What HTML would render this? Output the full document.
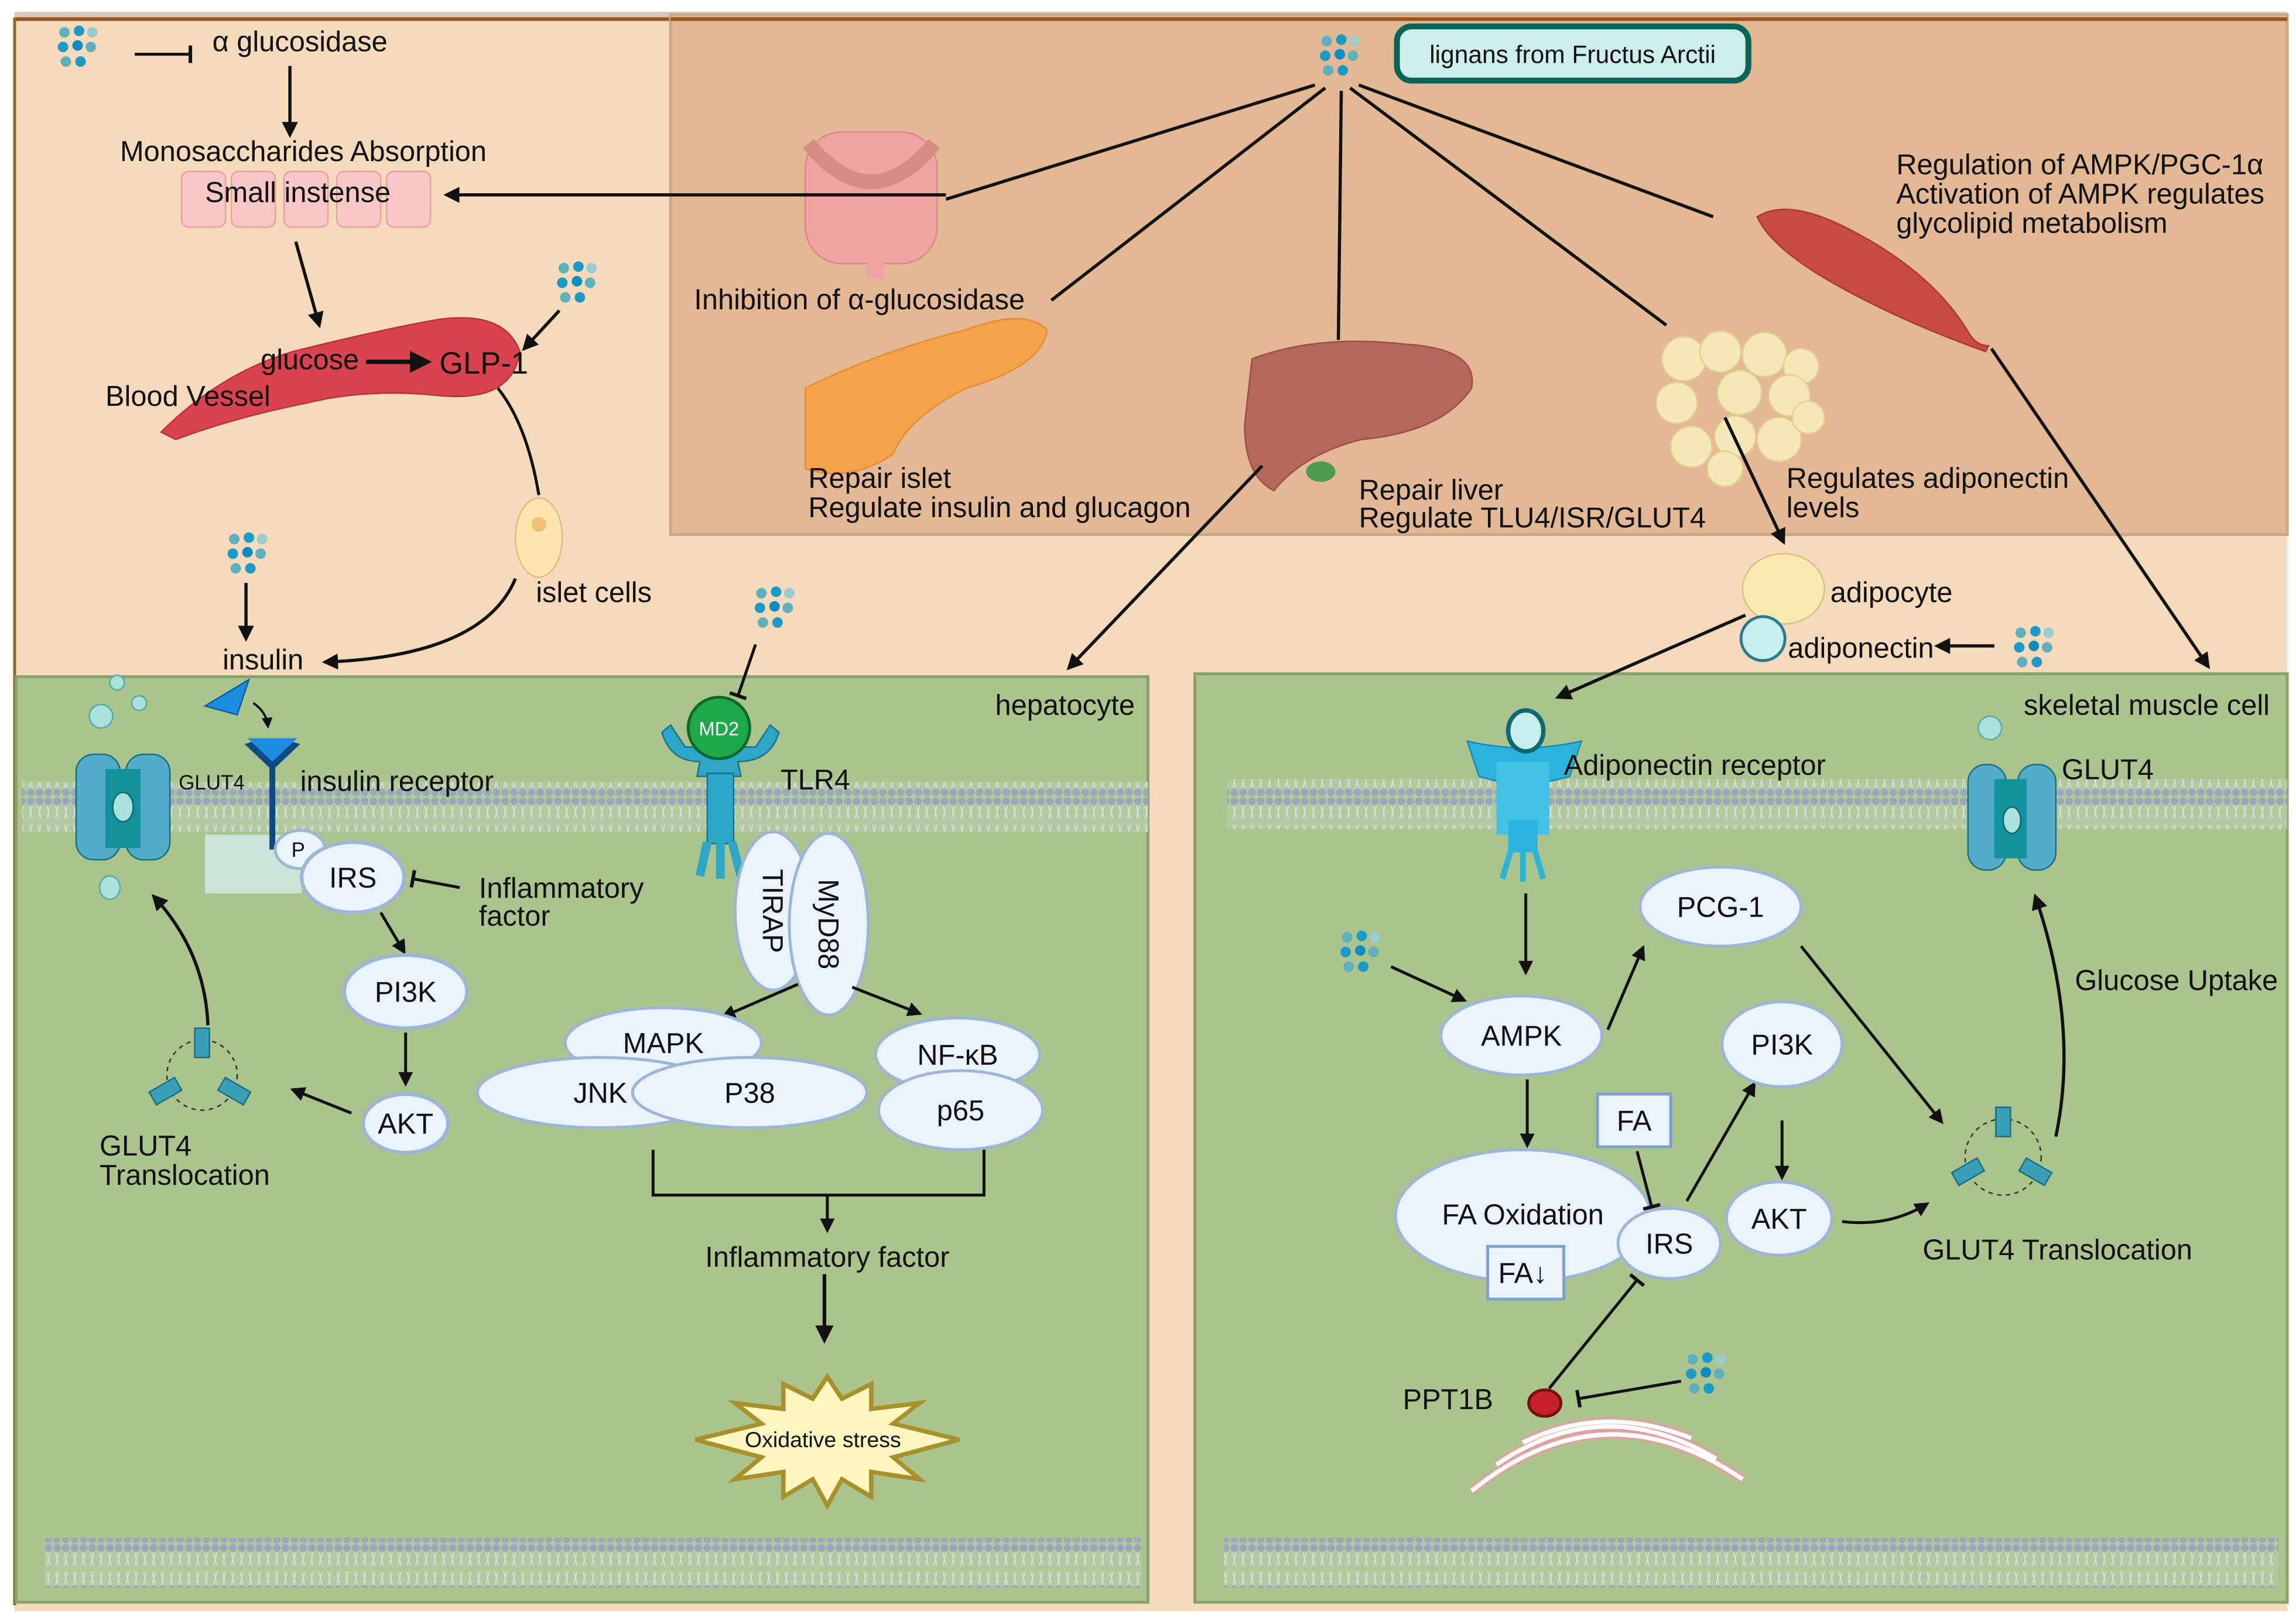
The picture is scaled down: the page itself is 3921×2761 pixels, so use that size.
<!DOCTYPE html>
<html><head><meta charset="utf-8"><style>
html,body{margin:0;padding:0;background:#fff}
svg{display:block}
text{font-family:"Liberation Sans",Arial,sans-serif;fill:#111}
</style></head><body>
<svg width="3921" height="2761" viewBox="0 0 1568 1104" xmlns="http://www.w3.org/2000/svg">
<defs>
<pattern id="mem" width="6" height="34" patternUnits="userSpaceOnUse">
<rect width="6" height="34" fill="#b4c89d"/>
<circle cx="3" cy="3" r="2.6" fill="#9aa8bc"/>
<circle cx="3" cy="31" r="2.6" fill="#9aa8bc"/>
<line x1="2" y1="6" x2="4" y2="15" stroke="#d9e2ea" stroke-width="0.6"/>
<line x1="4" y1="6" x2="2" y2="15" stroke="#d9e2ea" stroke-width="0.6"/>
<line x1="2" y1="19" x2="4" y2="28" stroke="#d9e2ea" stroke-width="0.6"/>
<line x1="4" y1="19" x2="2" y2="28" stroke="#d9e2ea" stroke-width="0.6"/>
</pattern>
<marker id="ah" viewBox="0 0 10 10" refX="8" refY="5" markerWidth="5" markerHeight="5" orient="auto-start-reverse"><path d="M0,0 L10,5 L0,10 z" fill="#111"/></marker>
<marker id="tb" viewBox="0 0 10 10" refX="5" refY="5" markerWidth="6" markerHeight="6" orient="auto"><path d="M5,0 L5,10" stroke="#111" stroke-width="2"/></marker>
<g id="dots">
<circle cx="0" cy="0" r="3.6" fill="#5fb0bd"/><circle cx="10" cy="-1" r="3.6" fill="#1b9ac8"/><circle cx="19" cy="0" r="3.6" fill="#9cc"/>
<circle cx="-1" cy="10" r="3.6" fill="#1b9ac8"/><circle cx="9" cy="9" r="3.6" fill="#0d8cc0"/><circle cx="18" cy="10" r="3.6" fill="#5fb0bd"/>
<circle cx="1" cy="20" r="3.6" fill="#5fb0bd"/><circle cx="11" cy="20" r="3.6" fill="#1b9ac8"/>
</g>
</defs>
<rect width="1568" height="1104" fill="#fff"/>
<rect x="10" y="12" width="1552" height="1088" fill="#f5dbbb"/>
<rect x="10" y="8" width="1552" height="4" fill="#d8c8bc"/>
<line x1="10" y1="13" x2="1562" y2="13" stroke="#9a5520" stroke-width="2.5"/>
<line x1="10" y1="12" x2="10" y2="1096" stroke="#8a6a20" stroke-width="2"/>
<rect x="458" y="10" width="1104" height="355" fill="#e2b994" stroke="#c9a98a" stroke-width="2"/>
<line x1="458" y1="13" x2="1562" y2="13" stroke="#9a5520" stroke-width="2.5"/>
<rect x="11" y="462" width="773" height="632" fill="#abc48e" stroke="#8aa070" stroke-width="2"/>
<rect x="816" y="460" width="746" height="634" fill="#abc48e" stroke="#8aa070" stroke-width="2"/>
<rect x="15" y="534" width="769" height="34" fill="url(#mem)"/>
<rect x="838" y="532" width="724" height="34" fill="url(#mem)"/>
<rect x="30" y="1050" width="750" height="34" fill="url(#mem)"/>
<rect x="836" y="1050" width="720" height="34" fill="url(#mem)"/>

<g font-size="19.5">
<rect x="954" y="18" width="240" height="37" rx="10" fill="#cdeeea" stroke="#0a6458" stroke-width="4"/>
<text x="1074" y="43" font-size="17" text-anchor="middle">lignans from Fructus Arctii</text>
<use href="#dots" x="906" y="28"/>
<g stroke="#111" stroke-width="2.2" fill="none">
<line x1="898" y1="58" x2="646" y2="136"/>
<line x1="905" y1="60" x2="718" y2="205"/>
<line x1="916" y1="62" x2="914" y2="232"/>
<line x1="922" y1="60" x2="1138" y2="222"/>
<line x1="928" y1="58" x2="1170" y2="148"/>
</g>
<g>
<rect x="550" y="90" width="90" height="90" rx="25" fill="#eea4a0" stroke="#d88a86"/>
<path d="M552,98 Q595,150 638,98" fill="none" stroke="#d88a86" stroke-width="10"/>
<rect x="592" y="170" width="12" height="20" fill="#eea4a0"/>
</g>
<line x1="646" y1="133" x2="305" y2="133" stroke="#111" stroke-width="2.2" marker-end="url(#ah)"/>
<text x="474" y="211">Inhibition of α-glucosidase</text>
<path d="M550,265 Q600,240 660,225 Q700,210 715,225 Q712,250 660,265 Q620,285 610,310 Q580,330 550,320 Z" fill="#f5a24c" stroke="#e58c30"/>
<text x="552" y="333">Repair islet</text>
<text x="552" y="353">Regulate insulin and glucagon</text>
<path d="M855,245 Q900,228 960,235 Q1010,238 1005,265 Q985,295 930,300 Q890,310 870,335 Q850,325 850,290 Z" fill="#b5675a" stroke="#9a5046"/>
<ellipse cx="902" cy="322" rx="10" ry="7" fill="#4e9a52"/>
<text x="928" y="341">Repair liver</text>
<text x="928" y="360">Regulate TLU4/ISR/GLUT4</text>
<g fill="#f4e7b8" stroke="#e3cf8f">
<circle cx="1150" cy="245" r="15"/><circle cx="1175" cy="240" r="14"/><circle cx="1205" cy="242" r="15"/><circle cx="1230" cy="250" r="12"/>
<circle cx="1145" cy="275" r="14"/><circle cx="1188" cy="268" r="15"/><circle cx="1222" cy="270" r="14"/>
<circle cx="1155" cy="305" r="14"/><circle cx="1185" cy="298" r="14"/><circle cx="1215" cy="300" r="15"/><circle cx="1235" cy="285" r="11"/><circle cx="1178" cy="320" r="12"/>
</g>
<text x="1220" y="333">Regulates adiponectin</text>
<text x="1220" y="353">levels</text>
<path d="M1200,148 Q1220,135 1260,155 Q1320,185 1345,228 Q1350,236 1358,236 L1356,240 Q1300,220 1255,195 Q1210,170 1200,148 Z" fill="#c84a44" stroke="#a83a36"/>
<text x="1295" y="119">Regulation of AMPK/PGC-1α</text>
<text x="1295" y="139">Activation of AMPK regulates</text>
<text x="1295" y="159">glycolipid metabolism</text>

<use href="#dots" x="44" y="22"/>
<line x1="92" y1="37" x2="130" y2="37" stroke="#111" stroke-width="2" marker-end="url(#tb)"/>
<text x="145" y="35">α glucosidase</text>
<line x1="198" y1="45" x2="198" y2="92" stroke="#111" stroke-width="2.2" marker-end="url(#ah)"/>
<text x="82" y="110">Monosaccharides Absorption</text>
<g fill="#f8c8c8" stroke="#e8a0a0"><rect x="124" y="117" width="30" height="38" rx="5"/><rect x="158" y="117" width="30" height="38" rx="5"/><rect x="194" y="117" width="30" height="38" rx="5"/><rect x="230" y="117" width="30" height="38" rx="5"/><rect x="264" y="117" width="30" height="38" rx="5"/></g>
<text x="140" y="138">Small instense</text>
<line x1="202" y1="165" x2="218" y2="222" stroke="#111" stroke-width="2.2" marker-end="url(#ah)"/>
<path d="M110,295 Q150,255 200,240 Q260,225 300,218 Q345,212 355,240 Q350,275 300,270 Q250,265 210,275 Q160,285 120,300 Z" fill="#d9434f" stroke="#b83040"/>
<text x="178" y="252">glucose</text>
<line x1="250" y1="247" x2="292" y2="247" stroke="#111" stroke-width="3" marker-end="url(#ah)"/>
<text x="300" y="255" font-size="21">GLP-1</text>
<text x="72" y="277">Blood Vessel</text>
<use href="#dots" x="385" y="183"/>
<line x1="382" y1="212" x2="358" y2="238" stroke="#111" stroke-width="2.2" marker-end="url(#ah)"/>
<path d="M340,265 Q360,290 368,338" fill="none" stroke="#111" stroke-width="2"/>
<ellipse cx="368" cy="367" rx="16" ry="27" fill="#fbe6b0" stroke="#d8c080"/>
<circle cx="368" cy="358" r="5" fill="#f2c070"/>
<text x="366" y="411">islet cells</text>
<path d="M352,395 Q330,448 222,452" fill="none" stroke="#111" stroke-width="2.2" marker-end="url(#ah)"/>
<use href="#dots" x="160" y="368"/>
<line x1="168" y1="398" x2="168" y2="436" stroke="#111" stroke-width="2.2" marker-end="url(#ah)"/>
<text x="152" y="457">insulin</text>

<circle cx="80" cy="466" r="5" fill="#a9e2dd" stroke="#5aa"/>
<circle cx="69" cy="489" r="8" fill="#a9e2dd" stroke="#5aa"/>
<circle cx="95" cy="480" r="5" fill="#a9e2dd" stroke="#5aa"/>
<path d="M140,482 L170,464 L162,488 Z" fill="#1c8ce0" stroke="#0d5ea0"/>
<path d="M173,480 Q182,486 183,496" fill="none" stroke="#111" stroke-width="1.5" marker-end="url(#ah)"/>
<rect x="140" y="570" width="66" height="40" fill="#d4eeee" opacity="0.8"/>
<rect x="52" y="515" width="30" height="72" rx="12" fill="#53adc9" stroke="#1a6f7e"/>
<rect x="86" y="515" width="30" height="72" rx="12" fill="#53adc9" stroke="#1a6f7e"/>
<rect x="72" y="525" width="24" height="54" fill="#12909c"/>
<ellipse cx="84" cy="551" rx="7" ry="10" fill="#a9e2dd" stroke="#0d6a70"/>
<ellipse cx="75" cy="606" rx="7" ry="8" fill="#a9e2dd" stroke="#5aa"/>
<text x="122" y="539" font-size="14">GLUT4</text>
<path d="M167,508 L186,526 L205,508 L198,506 L186,518 L174,506 Z" fill="#0d4a80"/>
<path d="M169,504 L186,520 L203,504 Z" fill="#1c8ce0"/>
<rect x="184" y="524" width="4" height="56" fill="#0d4a80"/>
<text x="205" y="540">insulin receptor</text>
<ellipse cx="205" cy="580" rx="17" ry="13" fill="#eaf2fc" stroke="#9db5d6" stroke-width="2"/>
<text x="199" y="585" font-size="14">P</text>
<ellipse cx="241" cy="599" rx="35" ry="24" fill="#eaf2fc" stroke="#9db5d6" stroke-width="2.5"/>
<text x="241" y="606" text-anchor="middle">IRS</text>
<line x1="314" y1="606" x2="282" y2="600" stroke="#111" stroke-width="2" marker-end="url(#tb)"/>
<text x="327" y="613">Inflammatory</text>
<text x="327" y="632">factor</text>
<line x1="260" y1="623" x2="276" y2="650" stroke="#111" stroke-width="2" marker-end="url(#ah)"/>
<ellipse cx="277" cy="677" rx="42" ry="25" fill="#eaf2fc" stroke="#9db5d6" stroke-width="2.5"/>
<text x="277" y="684" text-anchor="middle">PI3K</text>
<line x1="277" y1="705" x2="277" y2="740" stroke="#111" stroke-width="2" marker-end="url(#ah)"/>
<ellipse cx="277" cy="767" rx="29" ry="20" fill="#eaf2fc" stroke="#9db5d6" stroke-width="2.5"/>
<text x="277" y="774" text-anchor="middle">AKT</text>
<line x1="240" y1="760" x2="200" y2="744" stroke="#111" stroke-width="2" marker-end="url(#ah)"/>
<circle cx="138" cy="734" r="24" fill="none" stroke="#333" stroke-dasharray="3,3"/>
<rect x="133" y="702" width="10" height="20" fill="#3aa0b8" stroke="#1a6f7e"/>
<rect x="103" y="740" width="20" height="10" fill="#3aa0b8" stroke="#1a6f7e" transform="rotate(-30 113 745)"/>
<rect x="150" y="740" width="20" height="10" fill="#3aa0b8" stroke="#1a6f7e" transform="rotate(30 160 745)"/>
<path d="M142,700 Q140,650 105,612" fill="none" stroke="#111" stroke-width="2.2" marker-end="url(#ah)"/>
<text x="68" y="789">GLUT4</text>
<text x="68" y="809">Translocation</text>

<text x="775" y="488" text-anchor="end">hepatocyte</text>
<line x1="862" y1="318" x2="730" y2="456" stroke="#111" stroke-width="2.2" marker-end="url(#ah)"/>
<use href="#dots" x="520" y="405"/>
<line x1="516" y1="440" x2="504" y2="475" stroke="#111" stroke-width="2" marker-end="url(#tb)"/>
<path d="M452,500 Q458,520 478,520 L476,530 L506,530 L504,520 Q526,520 532,500 L526,495 L516,510 L468,510 L458,495 Z" fill="#2ea7c7" stroke="#1a7090"/>
<rect x="483" y="528" width="18" height="48" fill="#2ea7c7" stroke="#1a7090"/>
<path d="M483,575 L478,598 M492,575 L492,600 M500,575 L506,598" stroke="#2ea7c7" stroke-width="6"/>
<circle cx="491" cy="497" r="21" fill="#1ea84a" stroke="#0c6a28" stroke-width="2"/>
<text x="491" y="502" font-size="13" text-anchor="middle" style="fill:#fff">MD2</text>
<text x="533" y="539">TLR4</text>
<ellipse cx="528" cy="622" rx="26" ry="54" fill="#eaf2fc" stroke="#9db5d6" stroke-width="2"/>
<text transform="translate(521,622) rotate(90)" text-anchor="middle">TIRAP</text>
<ellipse cx="566" cy="631" rx="27" ry="62" fill="#eaf2fc" stroke="#9db5d6" stroke-width="2"/>
<text transform="translate(559,631) rotate(90)" text-anchor="middle">MyD88</text>
<line x1="545" y1="672" x2="494" y2="694" stroke="#111" stroke-width="2" marker-end="url(#ah)"/>
<line x1="582" y1="674" x2="628" y2="692" stroke="#111" stroke-width="2" marker-end="url(#ah)"/>
<ellipse cx="453" cy="712" rx="67" ry="24" fill="#eaf2fc" stroke="#9db5d6" stroke-width="2"/>
<text x="453" y="719" text-anchor="middle">MAPK</text>
<ellipse cx="410" cy="746" rx="84" ry="24" fill="#eaf2fc" stroke="#9db5d6" stroke-width="2"/>
<text x="410" y="753" text-anchor="middle">JNK</text>
<ellipse cx="512" cy="746" rx="80" ry="24" fill="#eaf2fc" stroke="#9db5d6" stroke-width="2"/>
<text x="512" y="753" text-anchor="middle">P38</text>
<ellipse cx="654" cy="720" rx="56" ry="25" fill="#eaf2fc" stroke="#9db5d6" stroke-width="2"/>
<text x="654" y="727" text-anchor="middle">NF-κB</text>
<ellipse cx="656" cy="758" rx="56" ry="27" fill="#eaf2fc" stroke="#9db5d6" stroke-width="2"/>
<text x="656" y="765" text-anchor="middle">p65</text>
<path d="M446,785 L446,816 L672,816 L672,785" fill="none" stroke="#111" stroke-width="2"/>
<line x1="565" y1="816" x2="565" y2="840" stroke="#111" stroke-width="2" marker-end="url(#ah)"/>
<text x="565" y="865" text-anchor="middle">Inflammatory factor</text>
<line x1="563" y1="870" x2="563" y2="915" stroke="#111" stroke-width="2.5" marker-end="url(#ah)"/>
<polygon points="565,940 575,955 595,945 595,962 628,958 610,972 655,983 610,995 628,1010 595,1005 595,1022 575,1010 565,1028 555,1010 535,1022 535,1005 502,1010 520,995 475,983 520,972 502,958 535,962 535,945 555,955" fill="#fdf6c0" stroke="#a8902a" stroke-width="3"/>
<text x="562" y="988" font-size="15" text-anchor="middle">Oxidative stress</text>

<line x1="1178" y1="285" x2="1218" y2="370" stroke="#111" stroke-width="2.2" marker-end="url(#ah)"/>
<ellipse cx="1218" cy="402" rx="28" ry="24" fill="#f8eab0" stroke="#d8c080"/>
<text x="1250" y="411">adipocyte</text>
<ellipse cx="1204" cy="436" rx="15" ry="15" fill="#c8eef0" stroke="#2a7a90" stroke-width="2"/>
<text x="1221" y="449">adiponectin</text>
<use href="#dots" x="1380" y="432"/>
<line x1="1362" y1="441" x2="1323" y2="441" stroke="#111" stroke-width="2.2" marker-end="url(#ah)"/>
<line x1="1192" y1="420" x2="1064" y2="476" stroke="#111" stroke-width="2.2" marker-end="url(#ah)"/>
<line x1="1360" y1="238" x2="1508" y2="455" stroke="#111" stroke-width="2.2" marker-end="url(#ah)"/>
<text x="1550" y="488" text-anchor="end">skeletal muscle cell</text>
<path d="M1002,506 Q1040,515 1080,506 L1072,530 Q1040,540 1010,530 Z" fill="#2ab3dc" stroke="#1a8ab0"/>
<rect x="1022" y="520" width="36" height="50" fill="#42c0e6"/>
<rect x="1030" y="560" width="20" height="22" fill="#2ab3dc"/>
<path d="M1032,580 L1026,600 M1040,580 L1040,602 M1048,580 L1054,600" stroke="#2ab3dc" stroke-width="4"/>
<ellipse cx="1042" cy="499" rx="12" ry="14" fill="#c8eef0" stroke="#0a6a70" stroke-width="3"/>
<text x="1068" y="529">Adiponectin receptor</text>
<line x1="1042" y1="610" x2="1042" y2="664" stroke="#111" stroke-width="2" marker-end="url(#ah)"/>
<use href="#dots" x="920" y="640"/>
<line x1="950" y1="660" x2="1000" y2="683" stroke="#111" stroke-width="2" marker-end="url(#ah)"/>
<ellipse cx="1039" cy="707" rx="55" ry="27" fill="#eaf2fc" stroke="#9db5d6" stroke-width="2"/>
<text x="1039" y="714" text-anchor="middle">AMPK</text>
<line x1="1098" y1="703" x2="1122" y2="647" stroke="#111" stroke-width="2" marker-end="url(#ah)"/>
<ellipse cx="1175" cy="619" rx="55" ry="27" fill="#eaf2fc" stroke="#9db5d6" stroke-width="2"/>
<text x="1175" y="626" text-anchor="middle">PCG-1</text>
<line x1="1230" y1="646" x2="1326" y2="766" stroke="#111" stroke-width="2" marker-end="url(#ah)"/>
<line x1="1043" y1="737" x2="1043" y2="782" stroke="#111" stroke-width="2" marker-end="url(#ah)"/>
<ellipse cx="1040" cy="830" rx="87" ry="45" fill="#eaf2fc" stroke="#9db5d6" stroke-width="2"/>
<text x="1040" y="836" text-anchor="middle">FA Oxidation</text>
<rect x="1091" y="747" width="50" height="36" fill="#eaf2fc" stroke="#7ea0cc" stroke-width="2"/>
<text x="1116" y="772" text-anchor="middle">FA</text>
<rect x="1016" y="851" width="52" height="36" fill="#eaf2fc" stroke="#7ea0cc" stroke-width="2"/>
<text x="1040" y="876" text-anchor="middle">FA↓</text>
<line x1="1118" y1="786" x2="1128" y2="824" stroke="#111" stroke-width="2" marker-end="url(#tb)"/>
<ellipse cx="1140" cy="849" rx="35" ry="24" fill="#eaf2fc" stroke="#9db5d6" stroke-width="2"/>
<text x="1140" y="856" text-anchor="middle">IRS</text>
<line x1="1152" y1="820" x2="1198" y2="740" stroke="#111" stroke-width="2" marker-end="url(#ah)"/>
<ellipse cx="1217" cy="713" rx="41" ry="29" fill="#eaf2fc" stroke="#9db5d6" stroke-width="2"/>
<text x="1217" y="720" text-anchor="middle">PI3K</text>
<line x1="1217" y1="765" x2="1217" y2="804" stroke="#111" stroke-width="2" marker-end="url(#ah)"/>
<ellipse cx="1215" cy="832" rx="36" ry="25" fill="#eaf2fc" stroke="#9db5d6" stroke-width="2"/>
<text x="1215" y="839" text-anchor="middle">AKT</text>
<path d="M1258,834 Q1290,838 1316,822" fill="none" stroke="#111" stroke-width="2" marker-end="url(#ah)"/>
<circle cx="1368" cy="790" r="26" fill="none" stroke="#333" stroke-dasharray="3,3"/>
<rect x="1363" y="756" width="10" height="20" fill="#3aa0b8" stroke="#1a6f7e"/>
<rect x="1334" y="795" width="20" height="10" fill="#3aa0b8" stroke="#1a6f7e" transform="rotate(-30 1344 800)"/>
<rect x="1380" y="795" width="20" height="10" fill="#3aa0b8" stroke="#1a6f7e" transform="rotate(30 1390 800)"/>
<text x="1313" y="860">GLUT4 Translocation</text>
<path d="M1404,776 Q1420,700 1390,612" fill="none" stroke="#111" stroke-width="2.2" marker-end="url(#ah)"/>
<text x="1417" y="676">Glucose Uptake</text>
<circle cx="1359" cy="497" r="8" fill="#a9e2dd" stroke="#5aa"/>
<rect x="1344" y="522" width="26" height="72" rx="12" fill="#53adc9" stroke="#1a6f7e"/>
<rect x="1378" y="522" width="26" height="72" rx="12" fill="#53adc9" stroke="#1a6f7e"/>
<rect x="1362" y="532" width="22" height="54" fill="#12909c"/>
<ellipse cx="1374" cy="560" rx="6" ry="9" fill="#a9e2dd" stroke="#0d6a70"/>
<text x="1408" y="532">GLUT4</text>
<line x1="1058" y1="948" x2="1118" y2="874" stroke="#111" stroke-width="2" marker-end="url(#tb)"/>
<text x="958" y="962">PPT1B</text>
<ellipse cx="1055" cy="958" rx="11" ry="9" fill="#c8202a" stroke="#701010" stroke-width="2"/>
<use href="#dots" x="1156" y="928"/>
<line x1="1148" y1="943" x2="1078" y2="955" stroke="#111" stroke-width="2" marker-end="url(#tb)"/>
<g fill="none" stroke="#e0a0a0" stroke-width="6">
<path d="M1005,1018 Q1095,945 1190,1010"/>
<path d="M1022,1000 Q1095,950 1172,996"/>
<path d="M1040,985 Q1095,958 1155,982"/>
</g>
<g fill="none" stroke="#fff" stroke-width="3">
<path d="M1005,1018 Q1095,945 1190,1010"/>
<path d="M1022,1000 Q1095,950 1172,996"/>
<path d="M1040,985 Q1095,958 1155,982"/>
</g>
</g>
</svg>
</body></html>
